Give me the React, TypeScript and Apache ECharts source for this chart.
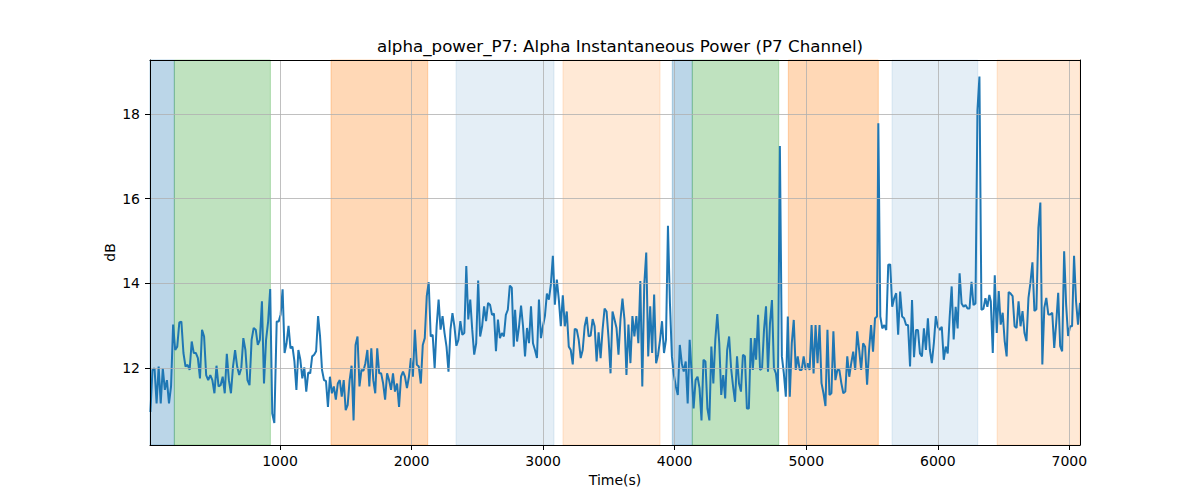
import React, { useEffect, useRef } from "react";
import * as echarts from "echarts";

// ---------- data ----------
const X_MIN = 12;
const X_MAX = 7081;
const Y_MIN = 10.19;
const Y_MAX = 19.27;

const xTicks = [1000, 2000, 3000, 4000, 5000, 6000, 7000];
const yTicks = [12, 14, 16, 18];

const TITLE = "alpha_power_P7: Alpha Instantaneous Power (P7 Channel)";
const X_NAME = "Time(s)";
const Y_NAME = "dB";

// shaded phases: start, end (seconds) and kind
const spanStarts = [12, 197, 1388, 2338, 3151, 3982, 4134, 4864, 5652, 6451];
const spanEnds = [197, 927, 2123, 3083, 3889, 4134, 4791, 5548, 6304, 7081];
const spanKinds = ["blue", "green", "orange", "lightblue", "lightorange", "blue", "green", "orange", "lightblue", "lightorange"];

// signal, read in pieces: [start time, end time] and evenly spaced values within
const seg1Range = [15, 957];
const seg1 = [10.97, 11.96, 12.0, 11.17, 12.04, 11.17, 12.0, 11.49, 11.72, 11.17, 11.57, 13.03, 12.43, 12.51, 13.08, 13.1, 12.36, 12.04, 12.08, 11.96, 12.63, 12.36, 12.36, 12.24, 11.76, 12.91, 12.75, 11.84, 11.72, 11.84, 11.72, 11.41, 12.06, 11.57, 11.6, 11.8, 11.41, 12.34, 11.72, 11.41, 12.04, 12.43, 12.04, 11.84, 12.0, 12.71, 12.43, 11.72, 11.6, 12.67, 12.95, 12.91, 12.55, 12.67, 13.58, 11.64, 12.67, 13.1, 13.87, 10.93, 10.71];

const seg2Range = [975, 1874];
const seg2 = [13.1, 13.1, 13.27, 13.86, 12.36, 12.59, 13.0, 12.47, 12.51, 12.16, 11.49, 12.43, 12.2, 11.76, 12.02, 11.45, 11.9, 11.88, 12.28, 12.32, 12.4, 13.23, 12.75, 11.96, 11.72, 11.7, 11.09, 11.8, 11.41, 11.57, 11.26, 11.64, 11.72, 11.33, 11.72, 11.01, 11.13, 11.72, 12.06, 10.77, 12.55, 12.75, 11.57, 11.96, 11.94, 12.12, 12.43, 11.57, 12.47, 11.72, 11.41, 12.47, 11.88, 11.88, 11.64, 11.26, 11.88, 11.72, 11.49, 11.88, 11.45];

const seg3Range = [1890, 2777];
const seg3 = [11.64, 11.09, 11.8, 11.92, 11.8, 11.53, 11.8, 12.24, 11.8, 12.91, 12.08, 12.04, 11.64, 12.55, 12.71, 13.7, 14.03, 12.75, 12.79, 12.0, 12.99, 13.62, 12.91, 13.23, 12.83, 12.51, 11.92, 12.91, 13.3, 12.99, 12.53, 12.67, 13.11, 12.79, 12.83, 14.41, 13.15, 13.62, 12.91, 12.32, 12.59, 14.07, 12.75, 12.99, 13.46, 13.11, 13.54, 13.5, 13.26, 13.29, 12.4, 13.15, 12.71, 12.83, 12.75, 13.26, 13.38, 13.95, 13.9, 12.51];

const seg4Range = [2787, 3694];
const seg4 = [13.38, 12.63, 12.99, 13.48, 12.99, 12.28, 12.95, 12.59, 13.46, 12.59, 12.43, 12.24, 13.62, 12.71, 12.99, 13.23, 13.76, 13.62, 13.98, 14.65, 13.5, 14.09, 13.62, 12.99, 13.72, 12.99, 13.34, 12.51, 12.43, 12.09, 12.93, 12.91, 12.67, 12.24, 12.43, 12.99, 13.21, 12.75, 12.77, 13.16, 12.99, 12.16, 12.85, 12.24, 12.91, 13.41, 13.34, 12.71, 11.88, 13.34, 13.15, 12.95, 12.32, 13.15, 13.64, 13.15, 11.84, 13.03, 12.12, 13.23, 12.75];

const seg5Range = [3709, 4609];
const seg5 = [13.23, 12.59, 14.06, 11.57, 13.98, 14.73, 12.28, 13.46, 12.36, 13.74, 12.12, 12.32, 12.67, 13.11, 12.36, 12.67, 15.36, 13.54, 12.28, 11.84, 11.57, 11.37, 12.55, 12.12, 11.92, 12.16, 11.17, 12.67, 11.88, 11.05, 11.72, 11.8, 11.53, 10.77, 12.2, 12.16, 11.05, 10.77, 12.51, 11.64, 12.67, 13.28, 12.59, 11.37, 11.84, 11.29, 12.43, 12.75, 12.0, 11.57, 11.21, 12.28, 11.64, 11.45, 12.32, 12.28, 11.05, 11.05, 12.71, 11.96, 12.71];

const seg6Range = [4619, 5538];
const seg6 = [12.2, 13.26, 11.96, 12.0, 12.91, 13.46, 11.92, 13.06, 13.61, 12.0, 11.88, 11.45, 17.24, 12.28, 11.88, 11.33, 13.22, 11.33, 12.59, 13.14, 11.96, 12.28, 11.96, 11.96, 12.28, 11.96, 12.12, 11.96, 13.02, 11.88, 13.02, 12.12, 13.02, 11.65, 11.41, 11.11, 12.91, 11.37, 11.41, 12.87, 11.72, 11.96, 11.96, 11.65, 11.41, 11.45, 12.28, 11.8, 12.12, 12.39, 11.96, 12.87, 12.43, 11.96, 12.59, 12.51, 11.61, 12.43, 13.02, 12.39, 13.18, 13.22];

const seg7Range = [5548, 6392];
const seg7 = [17.78, 13.22, 12.94, 13.02, 12.9, 14.44, 14.45, 13.45, 13.65, 13.77, 12.79, 13.81, 13.22, 13.18, 13.02, 13.02, 12.04, 13.61, 12.26, 12.9, 12.9, 12.35, 12.28, 12.94, 12.43, 13.18, 12.43, 12.12, 12.59, 13.23, 12.98, 12.9, 12.98, 12.2, 12.51, 12.35, 13.22, 13.93, 12.68, 13.45, 12.94, 14.24, 13.53, 13.45, 13.49, 13.41, 13.41, 14.04, 13.49, 13.53, 18.09, 18.88, 13.38, 13.4, 13.65, 13.45, 13.73];

const seg8Range = [6403, 7081];
const seg8 = [13.58, 12.36, 14.19, 12.83, 13.82, 13.03, 13.31, 12.64, 12.28, 13.8, 13.76, 13.7, 12.99, 12.95, 13.58, 12.99, 13.35, 12.83, 12.64, 13.66, 14.02, 14.5, 13.35, 13.39, 15.31, 15.91, 12.09, 13.43, 13.66, 13.27, 13.27, 13.31, 12.48, 13.07, 13.78, 12.52, 12.4, 14.76, 13.5, 12.76, 12.99, 12.99, 14.65, 13.58, 13.03, 13.54];

// ---------- styles ----------
const FONT = "DejaVu Sans";
const LINE_COLOR = "#1f77b4";
const GRID_COLOR = "#b0b0b0";
const KIND_COLORS: Record<string, string> = {
  blue: "rgba(31,119,180,0.3)",
  green: "rgba(44,160,44,0.3)",
  orange: "rgba(255,127,14,0.3)",
  lightblue: "rgba(31,119,180,0.12)",
  lightorange: "rgba(255,127,14,0.17)",
};

function buildSegment(range: number[], vals: number[]): number[][] {
  const [t0, t1] = range;
  const n = vals.length;
  return vals.map((v, i) => [t0 + ((t1 - t0) * i) / (n - 1), v]);
}

const segments: [number[], number[]][] = [
  [seg1Range, seg1],
  [seg2Range, seg2],
  [seg3Range, seg3],
  [seg4Range, seg4],
  [seg5Range, seg5],
  [seg6Range, seg6],
  [seg7Range, seg7],
  [seg8Range, seg8],
];

export default function App() {
  const ref = useRef<HTMLDivElement>(null);

  useEffect(() => {
    if (!ref.current) return;
    const chart = echarts.init(ref.current, null, { renderer: "svg" });

    const lineData: number[][] = [];
    segments.forEach(([r, v]) => lineData.push(...buildSegment(r, v)));

    const areas = spanStarts.map((s, i) => [
      {
        xAxis: s,
        itemStyle: {
          color: KIND_COLORS[spanKinds[i]],
          borderColor: KIND_COLORS[spanKinds[i]],
          borderWidth: 1,
        },
      },
      { xAxis: spanEnds[i] },
    ]);

    const gridLines = [
      ...xTicks.map((v) => ({ xAxis: v })),
      ...yTicks.map((v) => ({ yAxis: v })),
    ];

    const labelStyle = { color: "#000", fontSize: 14, fontFamily: FONT };
    const plain = (v: number) => String(v);

    const option: any = {
      animation: false,
      backgroundColor: "#fff",
      title: {
        text: TITLE,
        left: 615,
        top: 30,
        textAlign: "center",
        textStyle: { color: "#000", fontSize: 16.7, lineHeight: 22, fontWeight: "normal", fontFamily: FONT },
      },
      grid: { left: 150, top: 60, width: 930, height: 385, containLabel: false },
      xAxis: [
        {
          type: "value",
          min: X_MIN,
          max: X_MAX,
          z: 10,
          axisLine: { show: true, onZero: false, lineStyle: { color: "#000", width: 1 } },
          axisTick: { show: true, customValues: xTicks, length: 5, lineStyle: { color: "#000", width: 1 } },
          axisLabel: { ...labelStyle, customValues: xTicks, margin: 9, formatter: plain },
          splitLine: { show: false },
          name: X_NAME,
          nameLocation: "middle",
          nameGap: 28,
          nameMoveOverlap: false,
          nameTextStyle: labelStyle,
        },
        {
          type: "value",
          position: "top",
          min: X_MIN,
          max: X_MAX,
          z: 10,
          axisLine: { show: true, onZero: false, lineStyle: { color: "#000", width: 1 } },
          axisTick: { show: false },
          axisLabel: { show: false },
          splitLine: { show: false },
        },
      ],
      yAxis: [
        {
          type: "value",
          min: Y_MIN,
          max: Y_MAX,
          z: 10,
          axisLine: { show: true, onZero: false, lineStyle: { color: "#000", width: 1 } },
          axisTick: { show: true, customValues: yTicks, length: 5, lineStyle: { color: "#000", width: 1 } },
          axisLabel: { ...labelStyle, customValues: yTicks, margin: 10, formatter: plain },
          splitLine: { show: false },
          name: Y_NAME,
          nameLocation: "middle",
          nameGap: 33,
          nameMoveOverlap: false,
          nameTextStyle: labelStyle,
        },
        {
          type: "value",
          position: "right",
          min: Y_MIN,
          max: Y_MAX,
          z: 10,
          axisLine: { show: true, onZero: false, lineStyle: { color: "#000", width: 1 } },
          axisTick: { show: false },
          axisLabel: { show: false },
          splitLine: { show: false },
        },
      ],
      series: [
        {
          name: "spans",
          type: "line",
          data: [],
          z: 1,
          silent: true,
          markArea: { silent: true, data: areas },
        },
        {
          name: "gridlines",
          type: "line",
          data: [],
          z: 2,
          silent: true,
          markLine: {
            silent: true,
            symbol: ["none", "none"],
            label: { show: false },
            lineStyle: { color: GRID_COLOR, width: 0.8, type: "solid" },
            emphasis: { disabled: true },
            data: gridLines,
          },
        },
        {
          name: "alpha_power_P7",
          type: "line",
          data: lineData,
          z: 3,
          symbol: "none",
          showSymbol: false,
          clip: true,
          lineStyle: { color: LINE_COLOR, width: 2 },
          itemStyle: { color: LINE_COLOR },
        },
      ],
    };

    chart.setOption(option);
    return () => chart.dispose();
  }, []);

  return (
    <div
      ref={ref}
      style={{ position: "absolute", left: 0, top: 0, width: 1200, height: 500, background: "#fff" }}
    />
  );
}
